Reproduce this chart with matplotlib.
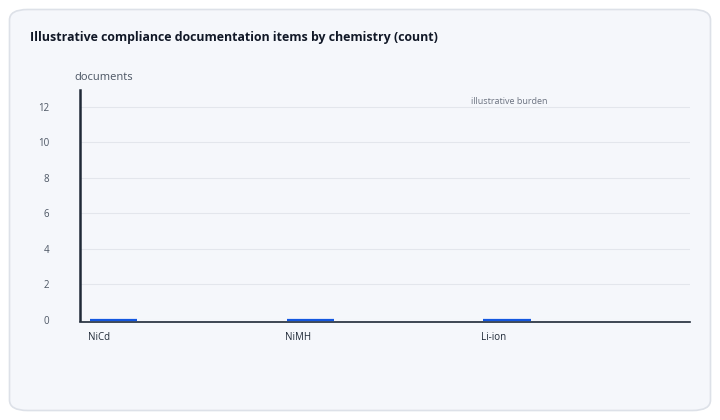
import matplotlib.pyplot as plt
from matplotlib.patches import FancyBboxPatch

# data
chemistries = ['NiCd', 'NiMH', 'Li-ion']
documents = [0, 0, 0]
y_ticks = [0, 2, 4, 6, 8, 10, 12]


def main():
    plt.rcParams['font.family'] = ['Open Sans', 'DejaVu Sans']

    fig = plt.figure(figsize=(7.2, 4.2), dpi=100)
    fig.patch.set_facecolor('white')

    # card background
    card = FancyBboxPatch((9.5 / 720, 9.5 / 420), 701 / 720, 401 / 420,
                          boxstyle='round,pad=0,rounding_size=0.025',
                          transform=fig.transFigure, facecolor='#f5f7fb',
                          edgecolor='#dde1e8', linewidth=1.2, zorder=-1)
    fig.patches.append(card)

    ax = fig.add_axes([80 / 720, (420 - 320) / 420, 610 / 720, 230 / 420])
    ax.set_zorder(2)
    ax.set_facecolor('none')

    # spines first: set_position resets the tick formatting
    for s in ['top', 'right']:
        ax.spines[s].set_visible(False)
    ax.spines['bottom'].set_position(('outward', 1.5))
    ax.spines['left'].set_color('#1f2937')
    ax.spines['left'].set_linewidth(1.8)
    ax.spines['bottom'].set_color('#1f2937')
    ax.spines['bottom'].set_linewidth(1.2)

    x = list(range(len(chemistries)))
    bar_w = 0.24
    ax.bar(x, documents, width=bar_w, align='edge', color='#1457e0',
           linewidth=0, zorder=3)
    # zero-height bars only show their top edge
    ax.hlines(documents, x, [v + bar_w for v in x], colors='#1457e0',
              linewidth=1.6, zorder=4, clip_on=False)

    ax.set_xlim(-0.05, 3.05)
    ax.set_ylim(0, 12.95)
    ax.set_yticks(y_ticks)
    ax.set_yticklabels([str(v) for v in y_ticks], fontsize=7, color='#4b5563')
    ax.set_xticks([v - 0.01 for v in x])
    ax.set_xticklabels(chemistries, fontsize=7, color='#1f2937', ha='left')
    ax.tick_params(axis='both', length=0)
    ax.tick_params(axis='y', pad=22)
    ax.tick_params(axis='x', pad=7)

    ax.grid(axis='y', color='#e3e6ec', linewidth=0.8, zorder=0)
    ax.set_axisbelow(True)

    ax.text(1.935, 12.05, 'illustrative burden', fontsize=6.5, color='#6b7280',
            ha='left', va='bottom')

    fig.text(30 / 720, 1 - 37 / 420,
             'Illustrative compliance documentation items by chemistry (count)',
             fontsize=8.9, fontweight='bold', color='#111827', va='center')
    fig.text(74 / 720, 1 - 77 / 420, 'documents', fontsize=8, color='#4b5563',
             va='center')

    plt.savefig('out.png', dpi=100)


if __name__ == '__main__':
    main()
